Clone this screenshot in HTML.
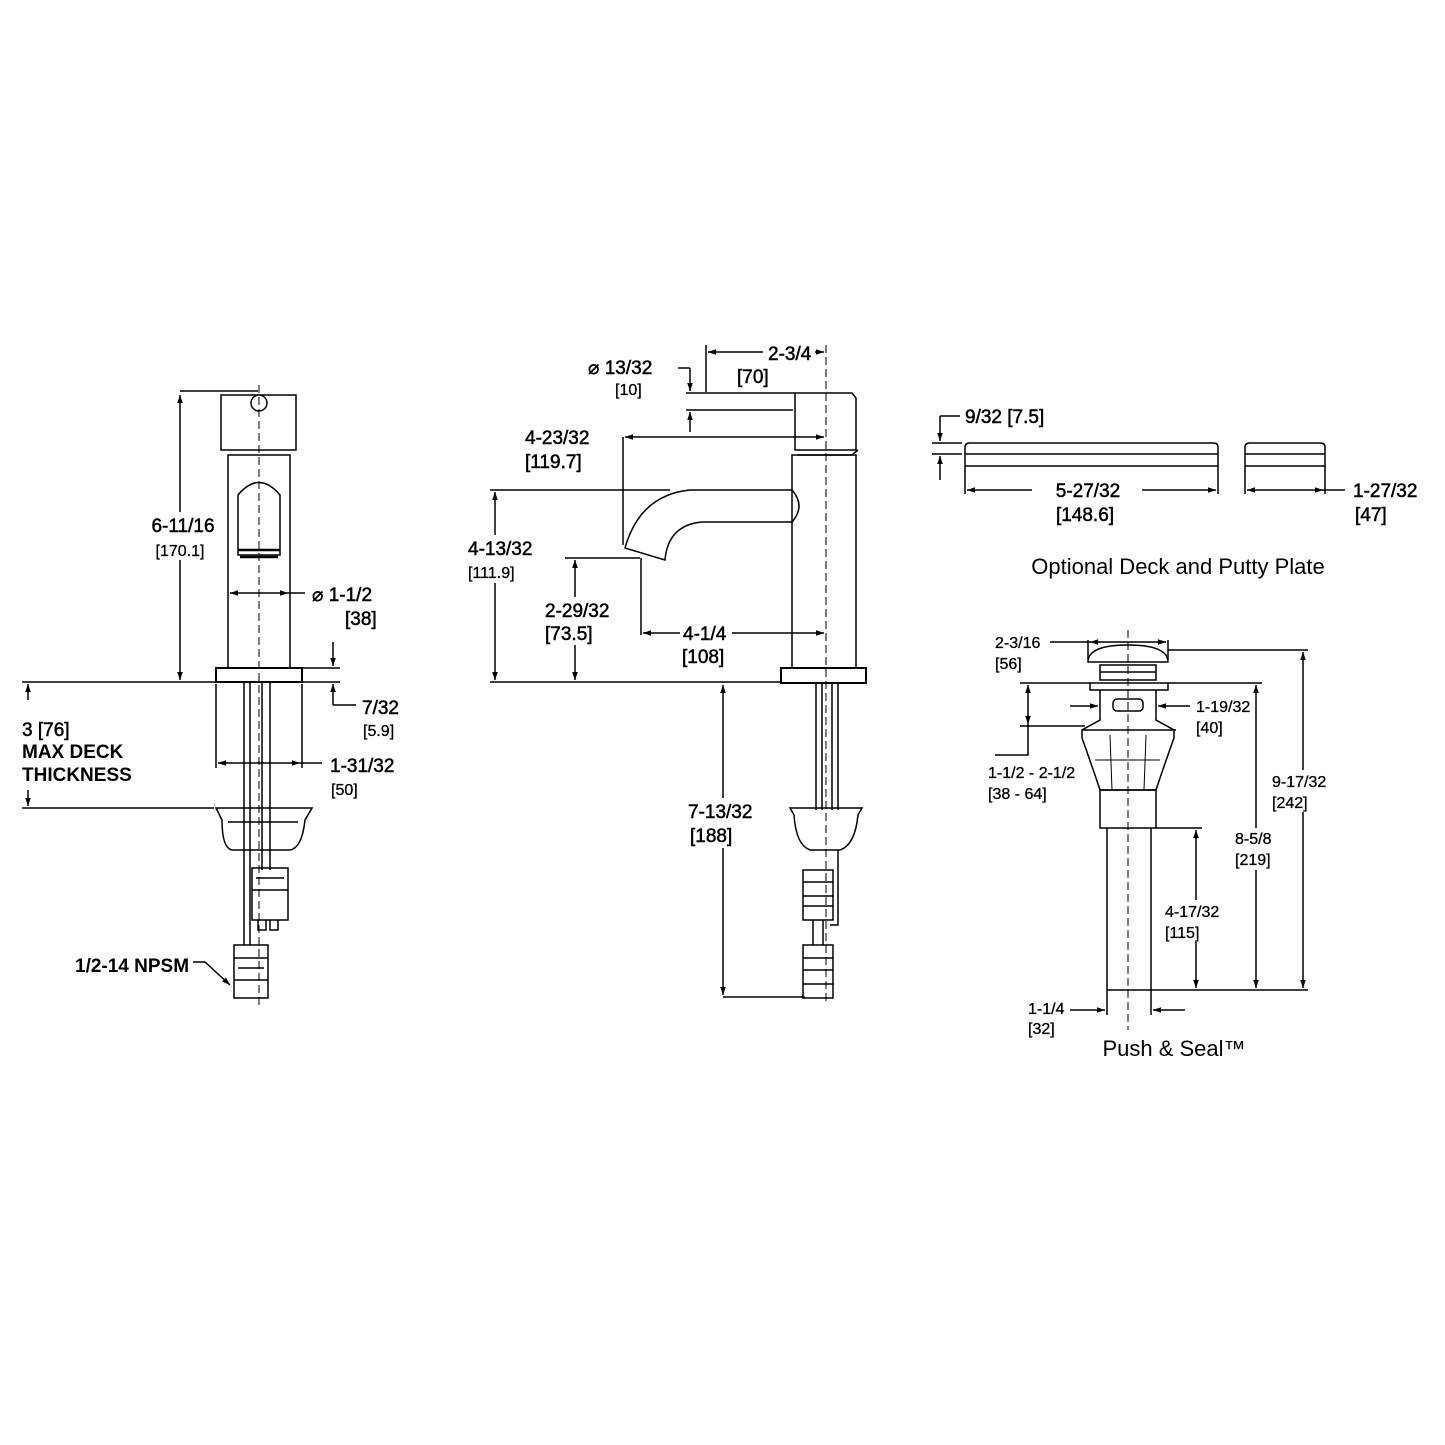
<!DOCTYPE html>
<html><head><meta charset="utf-8"><style>
html,body{margin:0;padding:0;background:#fff}
svg{display:block}
text{font-family:"Liberation Sans",sans-serif;fill:#000}
.d{font-size:19px;stroke:#000;stroke-width:0.5}
.s{font-size:16px;stroke:#000;stroke-width:0.3}
.b{font-size:19px;font-weight:bold}
.c{font-size:22px}
</style></head><body>
<svg width="1445" height="1445" viewBox="0 0 1445 1445" xmlns="http://www.w3.org/2000/svg">
<defs>
<marker id="a" viewBox="0 0 10 10" refX="10" refY="5" markerWidth="12" markerHeight="8" markerUnits="userSpaceOnUse" orient="auto-start-reverse"><path d="M0,1.5 L10,5 L0,8.5 z" fill="#000"/></marker>
</defs>
<g fill="none" stroke="#000" stroke-width="1.5">
<!-- LEFT FAUCET -->
<rect x="221" y="395" width="75" height="55"/>
<circle cx="259" cy="403" r="8" fill="#fff"/>
<rect x="228" y="455" width="62" height="213"/>
<path d="M238,555 L238,495 Q259,470 280,495 L280,555 Z"/>
<path d="M238,550 L280,550 M240,557 L278,557" stroke-width="2.5"/>
<rect x="216" y="668" width="86" height="14" stroke-width="2"/>
<line x1="259" y1="385" x2="259" y2="1005" stroke-dasharray="8,4" stroke-width="1"/>
<path d="M244,683 V870 M250,683 V870 M262,683 V870 M270,683 V870"/>
<path d="M216,808 H312 L305,820 Q302,848 290,850 H232 Q222,848 222,820 Z"/>
<path d="M228,822 H298"/>
<rect x="252" y="868" width="36" height="52"/>
<path d="M252,890 H288 M256,878 H284"/>
<path d="M258,920 V930 H266 V920 M270,920 V930 H278 V920"/>
<path d="M244,870 V945 M250,870 V945"/>
<rect x="234" y="945" width="34" height="53"/>
<path d="M234,958 H268 M238,968 H264 M234,980 H268"/>
<!-- left dims -->
<path d="M180,391 H258"/>
<line x1="180" y1="395" x2="180" y2="680" marker-start="url(#a)" marker-end="url(#a)"/>
<path d="M22,682 H216"/>
<path d="M22,808 H214"/>
<line x1="28" y1="700" x2="28" y2="684" marker-end="url(#a)"/>
<line x1="28" y1="790" x2="28" y2="806" marker-end="url(#a)"/>
<line x1="230" y1="593" x2="288" y2="593" marker-start="url(#a)" marker-end="url(#a)"/>
<path d="M288,593 H305"/>
<path d="M302,668 H340 M302,682 H340"/>
<line x1="333" y1="642" x2="333" y2="666" marker-end="url(#a)"/>
<line x1="333" y1="705" x2="333" y2="684" marker-end="url(#a)"/>
<path d="M333,705 H356"/>
<path d="M216,684 V768 M302,684 V768"/>
<line x1="218" y1="763" x2="300" y2="763" marker-start="url(#a)" marker-end="url(#a)"/>
<path d="M300,763 H322"/>
<path d="M193,962 H205 L230,985" marker-end="url(#a)"/>

<!-- CENTER FAUCET -->
<line x1="826" y1="345" x2="826" y2="1005" stroke-dasharray="8,4" stroke-width="1"/>
<path d="M706,393 H795 M706,410 H793" />
<path d="M795,393 V450 H856 V398 L852,393 Z"/>
<path d="M797,455 L852,455 L858,450"/>
<rect x="792" y="455" width="64" height="213"/>
<rect x="781" y="668" width="85" height="15" stroke-width="2"/>
<path d="M792,490 H690 Q640,495 625,548 L665,560 Q668,525 702,522 H792"/>
<path d="M792,490 Q806,506 792,522"/>
<path d="M816,683 V810 M822,683 V810 M832,683 V810 M838,683 V810"/>
<path d="M790,808 H862 L858,815 Q855,845 840,850 H810 Q796,845 794,815 Z"/>
<rect x="803" y="870" width="30" height="50"/>
<path d="M803,882 H833 M803,896 H833 M803,906 H833"/>
<path d="M838,850 V925 H830"/>
<path d="M813,920 V945 M823,920 V945"/>
<rect x="803" y="945" width="30" height="53"/>
<path d="M803,958 H833 M803,970 H833 M803,984 H833"/>
<!-- center dims -->
<path d="M706,345 V392"/>
<line x1="708" y1="352" x2="824" y2="352" marker-start="url(#a)" marker-end="url(#a)"/>
<path d="M678,368 H690"/>
<line x1="690" y1="368" x2="690" y2="391" marker-end="url(#a)"/>
<line x1="690" y1="432" x2="690" y2="412" marker-end="url(#a)"/>
<path d="M686,393 H706 M686,410 H706"/>
<path d="M623,437 V545"/>
<line x1="625" y1="437" x2="824" y2="437" marker-start="url(#a)" marker-end="url(#a)"/>
<path d="M490,490 H670"/>
<line x1="495" y1="492" x2="495" y2="680" marker-start="url(#a)" marker-end="url(#a)"/>
<path d="M565,558 H640 M641,558 V635"/>
<line x1="575" y1="560" x2="575" y2="680" marker-start="url(#a)" marker-end="url(#a)"/>
<line x1="643" y1="633" x2="824" y2="633" marker-start="url(#a)" marker-end="url(#a)"/>
<path d="M490,682 H781"/>
<line x1="723" y1="685" x2="723" y2="995" marker-start="url(#a)" marker-end="url(#a)"/>
<path d="M723,997 H805"/>

<!-- DECK PLATE -->
<path d="M965,466 V447 Q965,443 970,443 H1213 Q1218,443 1218,447 V466 Z"/>
<path d="M965,454 H1218"/>
<path d="M1245,466 V447 Q1245,443 1250,443 H1320 Q1325,443 1325,447 V466 Z"/>
<path d="M1245,454 H1325"/>
<path d="M932,443 H962 M932,454 H962"/>
<path d="M940,416 H960"/>
<line x1="940" y1="416" x2="940" y2="441" marker-end="url(#a)"/>
<line x1="940" y1="480" x2="940" y2="456" marker-end="url(#a)"/>
<path d="M965,466 V494 M1218,466 V494 M1245,466 V494 M1325,466 V494"/>
<line x1="967" y1="490" x2="1216" y2="490" marker-start="url(#a)" marker-end="url(#a)"/>
<line x1="1247" y1="490" x2="1323" y2="490" marker-start="url(#a)" marker-end="url(#a)"/>
<path d="M1323,490 H1345"/>

<!-- PUSH & SEAL -->
<line x1="1128" y1="630" x2="1128" y2="1030" stroke-dasharray="8,4" stroke-width="1"/>
<path d="M1088,662 Q1088,645 1128,645 Q1168,645 1168,662 Z"/>
<path d="M1100,665 H1156 V680 H1100 Z M1100,672 H1156"/>
<rect x="1090" y="683" width="78" height="7"/>
<path d="M1100,690 V720 L1082,730 V738 Q1090,760 1100,790 H1156 Q1166,760 1174,738 V730 L1156,720 V690"/>
<path d="M1082,730 H1176"/>
<rect x="1113" y="699" width="30" height="12" rx="4"/>
<path d="M1110,735 L1112,790 M1146,735 L1144,790 M1095,760 H1160" stroke-width="1"/>
<rect x="1100" y="790" width="56" height="38"/>
<path d="M1107,828 V992 M1151,828 V992"/>
<!-- push dims -->
<path d="M1088,640 V660 M1168,640 V660"/>
<line x1="1090" y1="642" x2="1166" y2="642" marker-start="url(#a)" marker-end="url(#a)"/>
<path d="M1050,642 H1090"/>
<path d="M1168,650 H1308"/>
<line x1="1303" y1="652" x2="1303" y2="988" marker-start="url(#a)" marker-end="url(#a)"/>
<path d="M1020,683 H1090 M1168,683 H1262"/>
<line x1="1256" y1="685" x2="1256" y2="988" marker-start="url(#a)" marker-end="url(#a)"/>
<path d="M1156,828 H1202"/>
<line x1="1196" y1="830" x2="1196" y2="988" marker-start="url(#a)" marker-end="url(#a)"/>
<path d="M1107,990 H1308"/>
<path d="M1107,992 V1015 M1151,992 V1015"/>
<line x1="1070" y1="1010" x2="1105" y2="1010" marker-end="url(#a)"/>
<line x1="1185" y1="1010" x2="1153" y2="1010" marker-end="url(#a)"/>
<line x1="1070" y1="706" x2="1098" y2="706" marker-end="url(#a)"/>
<line x1="1190" y1="706" x2="1158" y2="706" marker-end="url(#a)"/>
<path d="M1020,726 H1085"/>
<line x1="1028" y1="685" x2="1028" y2="724" marker-start="url(#a)" marker-end="url(#a)"/>
<path d="M1028,724 V755 H995"/>
</g>

<!-- white gaps behind labels -->
<g fill="#fff" stroke="none">
<rect x="150" y="512" width="68" height="48"/>
<rect x="763" y="342" width="52" height="18"/>
<rect x="465" y="535" width="72" height="48"/>
<rect x="542" y="597" width="70" height="48"/>
<rect x="680" y="620" width="52" height="48"/>
<rect x="685" y="798" width="72" height="50"/>
<rect x="1032" y="480" width="110" height="20"/>
<rect x="1268" y="770" width="62" height="42"/>
<rect x="1232" y="828" width="42" height="42"/>
<rect x="1162" y="900" width="60" height="42"/>
</g>

<!-- TEXT -->
<text class="d" x="183" y="532" text-anchor="middle">6-11/16</text>
<text class="s" x="180" y="556" text-anchor="middle">[170.1]</text>
<text class="d" x="312" y="601">⌀ 1-1/2</text>
<text class="d" x="345" y="625">[38]</text>
<text class="d" x="362" y="714">7/32</text>
<text class="s" x="363" y="736">[5.9]</text>
<text class="d" x="330" y="772">1-31/32</text>
<text class="s" x="331" y="795">[50]</text>
<text class="d" x="22" y="736">3 [76]</text>
<text class="b" x="22" y="758">MAX DECK</text>
<text class="b" x="22" y="781">THICKNESS</text>
<text class="b" x="75" y="972">1/2-14 NPSM</text>

<text class="d" x="768" y="360">2-3/4</text>
<text class="d" x="737" y="383">[70]</text>
<text class="d" x="588" y="374">⌀ 13/32</text>
<text class="s" x="615" y="395">[10]</text>
<text class="d" x="525" y="444">4-23/32</text>
<text class="d" x="525" y="468">[119.7]</text>
<text class="d" x="468" y="555">4-13/32</text>
<text class="s" x="468" y="578">[111.9]</text>
<text class="d" x="545" y="617">2-29/32</text>
<text class="d" x="545" y="640">[73.5]</text>
<text class="d" x="683" y="640">4-1/4</text>
<text class="d" x="682" y="663">[108]</text>
<text class="d" x="688" y="818">7-13/32</text>
<text class="d" x="690" y="842">[188]</text>

<text class="d" x="965" y="423">9/32  [7.5]</text>
<text class="d" x="1088" y="497" text-anchor="middle">5-27/32</text>
<text class="d" x="1085" y="521" text-anchor="middle">[148.6]</text>
<text class="d" x="1353" y="497">1-27/32</text>
<text class="d" x="1355" y="521">[47]</text>
<text class="c" x="1178" y="574" text-anchor="middle">Optional Deck and Putty Plate</text>

<text class="s" x="995" y="648">2-3/16</text>
<text class="s" x="995" y="669">[56]</text>
<text class="s" x="1196" y="712">1-19/32</text>
<text class="s" x="1196" y="733">[40]</text>
<text class="s" x="988" y="778">1-1/2 - 2-1/2</text>
<text class="s" x="988" y="799">[38 - 64]</text>
<text class="s" x="1272" y="787">9-17/32</text>
<text class="s" x="1272" y="808">[242]</text>
<text class="s" x="1235" y="844">8-5/8</text>
<text class="s" x="1235" y="865">[219]</text>
<text class="s" x="1165" y="917">4-17/32</text>
<text class="s" x="1165" y="938">[115]</text>
<text class="s" x="1028" y="1014">1-1/4</text>
<text class="s" x="1028" y="1034">[32]</text>
<text class="c" x="1174" y="1056" text-anchor="middle">Push &amp; Seal™</text>
</svg>
</body></html>
